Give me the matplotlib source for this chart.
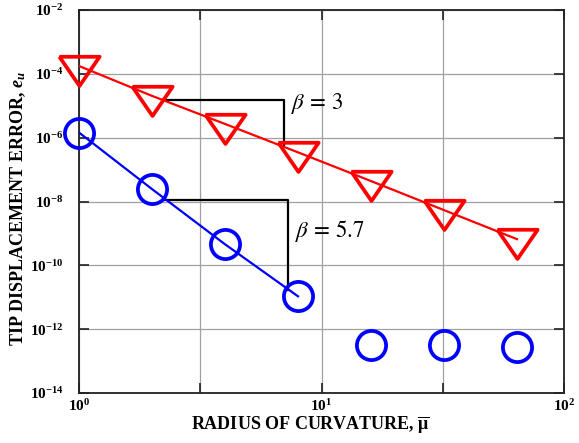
import numpy as np
import matplotlib
matplotlib.use("Agg")
import matplotlib.pyplot as plt
from matplotlib.ticker import FixedLocator, FixedFormatter, NullLocator

plt.rcParams['font.family'] = ['Liberation Serif', 'DejaVu Serif']
plt.rcParams['mathtext.fontset'] = 'custom'
plt.rcParams['mathtext.rm'] = 'Liberation Serif:weight=bold'
plt.rcParams['mathtext.bf'] = 'Liberation Serif:weight=bold'
plt.rcParams['mathtext.it'] = 'Liberation Serif:style=italic:weight=bold'

# ---- data ----
radius = [1, 2, 4, 8, 16, 32, 64]
err_red = [1.76e-4, 2.04e-5, 2.69e-6, 3.47e-7, 4.37e-8, 5.37e-9, 6.61e-10]
err_blue = [1.45e-6, 2.45e-8, 4.57e-10, 1.07e-11, 3.2e-13, 3.2e-13, 2.8e-13]
blue_fit_n = 4  # blue line drawn through first points

slope_red_x = [2.22, 7.03, 7.03]
slope_red_y = [1.51e-5, 1.51e-5, 5.9e-7]
slope_blue_x = [2.27, 7.3, 7.3]
slope_blue_y = [1.1e-8, 1.1e-8, 1.66e-11]

label_red = r'$\beta\,=\,3$'
label_red_pos = (7.5, 1.2e-5)
label_blue = r'$\beta\,=\,5.7$'
label_blue_pos = (7.8, 1.17e-9)

xticks = [1, 10**0.5, 10, 10**1.5, 100]
xticklabels = [r'$10^{0}$', '', r'$10^{1}$', '', r'$10^{2}$']
yticks = [1e-14, 1e-12, 1e-10, 1e-8, 1e-6, 1e-4, 1e-2]
yticklabels = [r'$10^{-14}$', r'$10^{-12}$', r'$10^{-10}$',
               r'$10^{-8}$', r'$10^{-6}$', r'$10^{-4}$', r'$10^{-2}$']

W, H = 579, 443
fig = plt.figure(figsize=(W / 100, H / 100), dpi=100)
L, R, T, B = 79, 564, 10, 393
ax = fig.add_axes([L / W, 1 - B / H, (R - L) / W, (B - T) / H])
ax.set_xscale('log')
ax.set_yscale('log')
ax.set_xlim(1, 100)
ax.set_ylim(1e-14, 1e-2)

ax.xaxis.set_major_locator(FixedLocator(xticks))
ax.xaxis.set_major_formatter(FixedFormatter(xticklabels))
ax.xaxis.set_minor_locator(NullLocator())
ax.yaxis.set_major_locator(FixedLocator(yticks))
ax.yaxis.set_major_formatter(FixedFormatter(yticklabels))
ax.yaxis.set_minor_locator(NullLocator())

ax.grid(True, color='#a0a0a0', lw=0.9, zorder=0)
ax.set_axisbelow(True)
ax.tick_params(which='major', direction='in', length=7, width=1.2, color='#222222',
               top=True, right=True, labelsize=11)
ax.tick_params(axis='y', pad=11)
ax.tick_params(axis='x', pad=4)
for s in ax.spines.values():
    s.set_color('#222222')
    s.set_linewidth(1.3)

# slope triangles
ax.plot(slope_red_x, slope_red_y, color='black', lw=1.6, zorder=2)
ax.plot(slope_blue_x, slope_blue_y, color='black', lw=1.6, zorder=2)

# triangle marker with centroid at origin
h = 1.45
tri = [(-1, h / 3), (1, h / 3), (0, -2 * h / 3), (-1, h / 3)]

ax.plot(radius, err_red, color='red', lw=1.6, zorder=3)
ax.plot(radius, err_red, ls='none', marker=tri, ms=29, mfc='none', mec='red',
        mew=2.7, clip_on=False, zorder=4)

ax.plot(radius[:blue_fit_n], err_blue[:blue_fit_n], color='blue', lw=1.6, zorder=3)
ax.plot(radius, err_blue, ls='none', marker='o', ms=21, mfc='none', mec='blue',
        mew=2.7, clip_on=False, zorder=4)

ax.text(*label_red_pos, label_red, fontsize=16.5, ha='left', va='center', zorder=5,
        math_fontfamily='stix')
ax.text(*label_blue_pos, label_blue, fontsize=16.5, ha='left', va='center', zorder=5,
        math_fontfamily='stix')

fig.text(23 / W, 1 - 209 / H, r'TIP DISPLACEMENT ERROR, $e_u$', rotation=90,
         rotation_mode='anchor', ha='center', va='baseline', fontsize=13,
         fontweight='bold')
fig.text(310 / W, 1 - 429 / H, r'RADIUS OF CURVATURE, $\overline{\mathrm{\mu}}$',
         ha='center', va='baseline', fontsize=13, fontweight='bold')

fig.savefig('out.png', dpi=100)
